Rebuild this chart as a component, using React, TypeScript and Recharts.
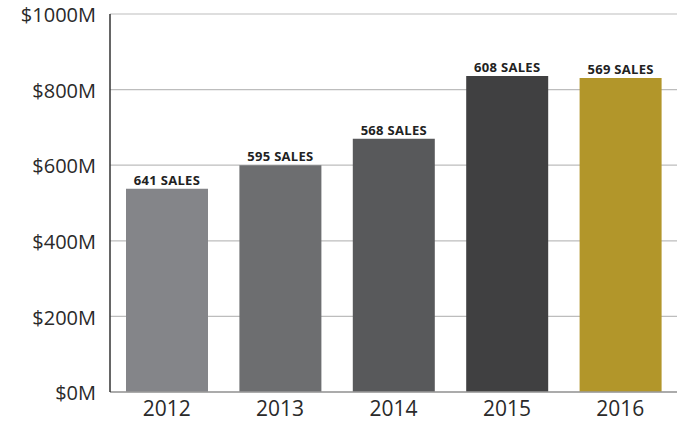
import { BarChart, Bar, XAxis, YAxis, CartesianGrid, Cell, LabelList } from "recharts";

const years = ["2012", "2013", "2014", "2015", "2016"];
const revenue = [538, 600, 670, 836, 831];
const salesCounts = [641, 595, 568, 608, 569];
const barColors = ["#848589", "#6d6e70", "#58595b", "#404041", "#b2962a"];
const yTicks = [0, 200, 400, 600, 800, 1000];

const data = years.map((year, i) => ({
    year,
    revenue: revenue[i],
    label: `${salesCounts[i]} SALES`,
}));

const font = "'Open Sans', 'Noto Sans', sans-serif";

export default function App() {
    return (
        <div style={{ width: 677, height: 424 }}>
            <style>{`body { margin: 0; }`}</style>
            <BarChart
                width={677}
                height={424}
                data={data}
                margin={{ top: 14, right: 0, left: 0, bottom: 0 }}
                barCategoryGap={31}
            >
                <CartesianGrid vertical={false} stroke="#bdbdbd" strokeWidth={1.2} />
                <XAxis
                    dataKey="year"
                    height={32}
                    tickLine={false}
                    axisLine={{ stroke: "#9a9a9a", strokeWidth: 1.5 }}
                    tick={{ fill: "#2a2a2a", fontSize: 21, fontFamily: font, fontWeight: 400 }}
                    tickMargin={3}
                />
                <YAxis
                    width={110}
                    domain={[0, 1000]}
                    ticks={yTicks}
                    tickFormatter={(v) => `$${v}M`}
                    tickLine={false}
                    axisLine={{ stroke: "#333", strokeWidth: 1.5 }}
                    tick={{ fill: "#2a2a2a", fontSize: 20, fontFamily: font, fontWeight: 400, dy: 1 }}
                    tickMargin={8}
                    interval={0}
                />
                <Bar dataKey="revenue" barSize={82} isAnimationActive={false}>
                    {data.map((d, i) => (
                        <Cell key={d.year} fill={barColors[i]} />
                    ))}
                    <LabelList
                        dataKey="label"
                        position="top"
                        offset={4}
                        style={{ fill: "#222", fontSize: 13, fontWeight: 700, fontFamily: font, letterSpacing: 0.3 }}
                    />
                </Bar>
            </BarChart>
        </div>
    );
}
